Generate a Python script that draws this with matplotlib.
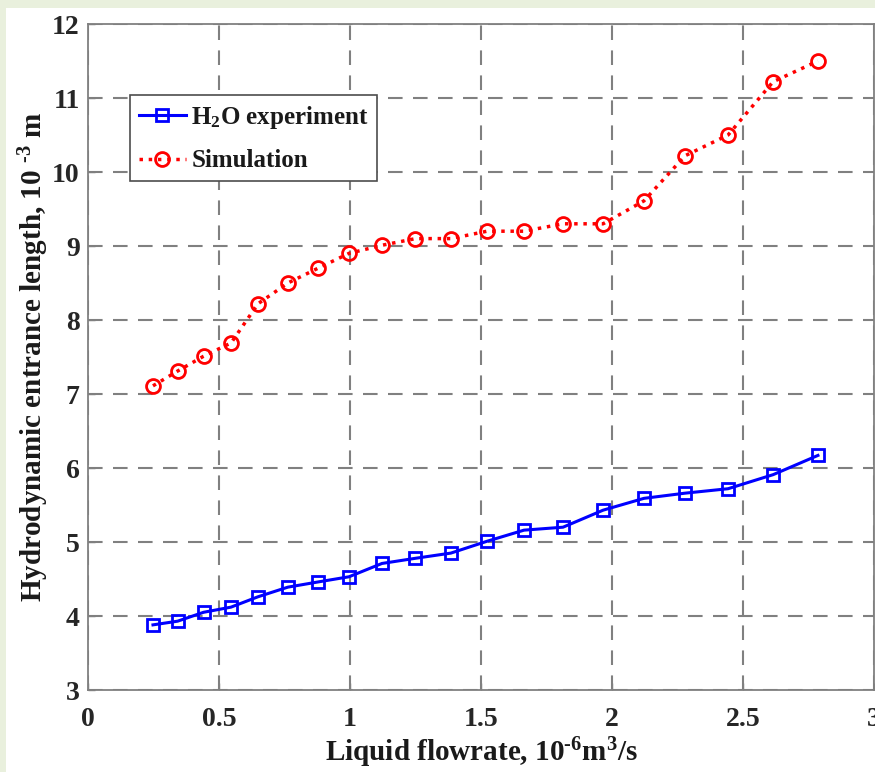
import matplotlib
matplotlib.use("Agg")
import matplotlib.pyplot as plt
from matplotlib.patches import Rectangle

plt.rcParams['font.family'] = ['Liberation Serif', 'DejaVu Serif']
plt.rcParams['font.weight'] = 'bold'
plt.rcParams['mathtext.fontset'] = 'custom'
plt.rcParams['mathtext.rm'] = 'Liberation Serif:bold'
plt.rcParams['mathtext.bf'] = 'Liberation Serif:bold'
plt.rcParams['mathtext.default'] = 'bf'

# flowrate, 10^-6 m3/s
flowrate = [0.248, 0.342, 0.441, 0.546, 0.649, 0.763, 0.878, 0.996, 1.122, 1.250,
            1.385, 1.523, 1.664, 1.813, 1.966, 2.122, 2.279, 2.443, 2.615, 2.786]
# entrance length, 10^-3 m
h2o_experiment = [3.88, 3.93, 4.05, 4.12, 4.26, 4.39, 4.46, 4.53, 4.71, 4.78,
                  4.85, 5.01, 5.16, 5.20, 5.43, 5.59, 5.66, 5.72, 5.91, 6.17]
simulation = [7.11, 7.31, 7.51, 7.69, 8.22, 8.50, 8.70, 8.90, 9.01, 9.10,
              9.10, 9.20, 9.20, 9.30, 9.30, 9.61, 10.22, 10.50, 11.22, 11.50]

x_ticks = [0, 0.5, 1, 1.5, 2, 2.5, 3]
x_tick_labels = ['0', '0.5', '1', '1.5', '2', '2.5', '3']
y_ticks = [3, 4, 5, 6, 7, 8, 9, 10, 11, 12]

fig = plt.figure(figsize=(8.75, 7.72), dpi=100)
fig.patch.set_facecolor('#e9f0dd')
fig.patches.append(Rectangle((6 / 875, 0), 1, (772 - 8) / 772, transform=fig.transFigure,
                             facecolor='white', edgecolor='none', zorder=-10))

ax = fig.add_axes([88 / 875, 82 / 772, 786 / 875, 666 / 772])
ax.plot(flowrate, h2o_experiment, color='#0000ff', linestyle='-', linewidth=2.2,
        marker='s', markersize=9, markerfacecolor='none', markeredgewidth=2,
        label='H$_2$O experiment')
ax.plot(flowrate, simulation, color='#ff0000', linestyle=':', linewidth=2.5,
        marker='o', markersize=10, markerfacecolor='none', markeredgewidth=2,
        label='Simulation')

ax.set_xlim(0, 3)
ax.set_ylim(3, 12)
ax.set_xticks(x_ticks)
ax.set_xticklabels(x_tick_labels)
ax.set_yticks(y_ticks)
ax.tick_params(direction='in', length=5, width=1, colors='#808080',
               labelcolor='#262626', labelsize=20)
ax.tick_params(axis='x', pad=12)
ax.tick_params(axis='y', pad=6)
for lab in ax.get_xticklabels() + ax.get_yticklabels():
    lab.set_fontweight('bold')

ax.grid(True, color='#808080', linestyle=(0, (7, 5)), linewidth=1.5)
ax.set_axisbelow(True)
for sp in ax.spines.values():
    sp.set_color('#808080')
    sp.set_linewidth(1.3)

ax.set_xlabel('Liquid flowrate, 10$^{\u20106}$m$^{3}$/s', fontsize=21, fontweight='bold',
              color='#1a1a1a', labelpad=3)
ax.set_ylabel('Hydrodynamic entrance length, 10 $^{\u20103}$ m', fontsize=21,
              fontweight='bold', color='#1a1a1a', labelpad=1)

leg = ax.legend(loc='upper left', bbox_to_anchor=(0.0534, 0.8934), borderaxespad=0,
                fontsize=18, frameon=True, fancybox=False, edgecolor='#4d4d4d',
                framealpha=1, handlelength=1.9, handletextpad=0.2, borderpad=0.35,
                labelspacing=0.75)
leg.get_frame().set_linewidth(1.2)
for t in leg.get_texts():
    t.set_fontweight('bold')
    t.set_color('#1a1a1a')

fig.savefig('out.png', dpi=100, facecolor=fig.get_facecolor())
